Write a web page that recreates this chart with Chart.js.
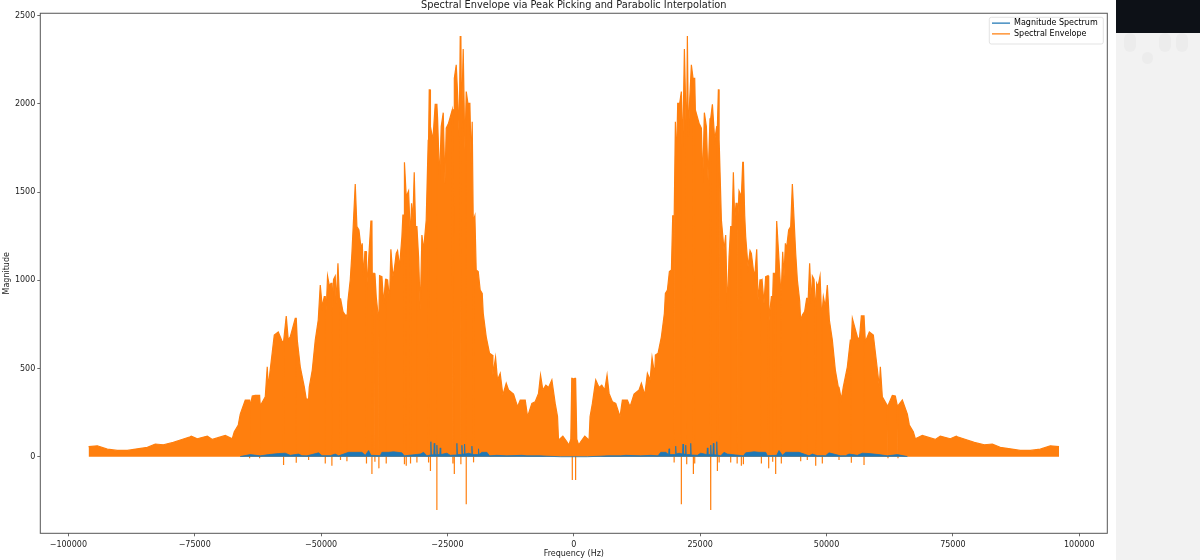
<!DOCTYPE html>
<html>
<head>
<meta charset="utf-8">
<title>Spectral Envelope</title>
<script src="https://cdn.jsdelivr.net/npm/chart.js@4/dist/chart.umd.min.js"></script>
<style>
  html, body { margin: 0; padding: 0; background: #fff; overflow: hidden; }
  #wrap { position: relative; width: 1200px; height: 560px; }
  #chart { position: absolute; left: 0; top: 0; }
  #side { position: absolute; left: 1116px; top: 0; width: 84px; height: 560px; background: #f2f2f2; overflow: hidden; }
  #side .bar { position: absolute; left: 0; top: 0; width: 84px; height: 33px; background: #0d1117; }
  #side .pill { position: absolute; background: #ececec; border-radius: 6px; }
</style>
</head>
<body>
<div id="wrap">
  <canvas id="chart" width="1116" height="560"></canvas>
  <div id="side">
    <div class="bar"></div>
    <div class="pill" style="left:8px;top:33px;width:12px;height:19px"></div>
    <div class="pill" style="left:43px;top:33px;width:12px;height:19px"></div>
    <div class="pill" style="left:60px;top:33px;width:12px;height:19px"></div>
    <div class="pill" style="left:26px;top:52px;width:11px;height:12px"></div>
  </div>
</div>
<script>
const chartTitle = "Spectral Envelope via Peak Picking and Parabolic Interpolation";
const xAxisLabel = "Frequency (Hz)";
const yAxisLabel = "Magnitude";
const seriesNames = ["Magnitude Spectrum", "Spectral Envelope"];
const xTicks = [-100000, -75000, -50000, -25000, 0, 25000, 50000, 75000, 100000];
const yTicks = [0, 500, 1000, 1500, 2000, 2500];

// envelope tops, negative side
const leftEnvFreq = [
  -96000, -94270, -92290, -90310, -88330, -86350, -84370, -82800, -81220, -79240,
  -77850, -75880, -75680, -74490, -72510, -71520, -68950, -67570, -67170, -66380,
  -65990, -65000, -64010, -63610, -63020, -62030, -61040, -60650, -60450, -59260,
  -58470, -57680, -56890, -56490, -56100, -55900, -55110, -54710, -54120, -53330,
  -52930, -52340, -51740, -51150, -50560, -50160, -49770, -49370, -48980, -48720,
  -48320, -48050, -47790, -47530, -47200, -47000, -46660, -46340, -46070, -45670,
  -45220, -44880, -44690, -44230, -43900, -43240, -42910, -42510, -42050, -41860,
  -41590, -41330, -40930, -40600, -40140, -39880, -39480, -39090, -38620, -38430,
  -37960, -37630, -37240, -36840, -36450, -36190, -35790, -35530, -35130, -34870,
  -34470, -34010, -33810, -33420, -33150, -32690, -32360, -32100, -31830, -31570,
  -31310, -31040, -30710, -30380, -30050, -29720, -29200, -28800, -28600, -28270,
  -27880, -27420, -26950, -26560, -26230, -25830, -25500, -25240, -24780, -24450,
  -24050, -23590, -23260, -22930, -22670, -22470, -22210, -21880, -21550, -21280,
  -20950, -20560, -20300, -20100, -19900, -19570, -19310, -18910, -18520, -18120,
  -17920, -17330, -16670, -16140, -16010, -15480, -15090, -14560, -14030, -13370,
  -12910, -11920, -11130, -10600, -9610, -9150, -8300, -7640, -6980, -6580,
  -6120, -5530, -5000, -4340, -3680, -3220, -3020, -2170, -1370, -980,
  -590, -400, -200
];
const leftEnvMag = [
  57, 62, 43, 36, 36, 45, 53, 72, 68, 81,
  95, 113, 117, 102, 117, 98, 121, 102, 142, 180,
  242, 321, 289, 344, 348, 289, 340, 510, 397, 690,
  707, 652, 798, 661, 680, 700, 784, 661, 510, 397,
  327, 393, 491, 661, 775, 973, 850, 907, 832, 1024,
  964, 983, 841, 1005, 1024, 869, 1096, 869, 898, 822,
  803, 775, 882, 1002, 1153, 1546, 1304, 1285, 1172, 1210,
  1021, 1162, 945, 1115, 1336, 1040, 1040, 907, 775, 1026,
  1021, 869, 1005, 1002, 888, 1176, 1021, 1058, 1153, 1168,
  1077, 1247, 1370, 1669, 1474, 1506, 1266, 1436, 1342, 1612,
  1304, 1304, 1134, 832, 1257, 1172, 1342, 1796, 2079, 1871,
  1796, 1998, 1918, 1569, 1871, 1950, 1550, 1862, 1890, 1924,
  1966, 2145, 2221, 2022, 1814, 2385, 1890, 2311, 1739, 2070,
  2003, 2003, 1663, 1899, 1342, 1366, 1058, 1049, 945, 926,
  813, 680, 586, 576, 463, 563, 435, 472, 350, 416,
  378, 355, 283, 321, 321, 227, 302, 312, 359, 463,
  378, 406, 393, 435, 302, 227, 94, 117, 85, 66,
  100, 444, 444
];

// same read-off for the positive side, listed from the outer edge inwards
const rightEnvFreq = [
  96000, 94270, 92290, 90310, 88330, 86350, 84370, 82800, 81220, 79240,
  77850, 75880, 75680, 74490, 72510, 71520, 68950, 67570, 67170, 66380,
  65990, 65000, 64010, 63610, 63020, 62030, 61040, 60650, 60450, 59260,
  58470, 57680, 56890, 56490, 56100, 55900, 55110, 54710, 54120, 53330,
  52930, 52340, 51740, 51150, 50560, 50160, 49770, 49370, 48980, 48720,
  48320, 48050, 47790, 47530, 47200, 47000, 46660, 46340, 46070, 45670,
  45220, 44880, 44690, 44230, 43900, 43240, 42910, 42510, 42050, 41860,
  41590, 41330, 40930, 40600, 40140, 39880, 39480, 39090, 38620, 38430,
  37960, 37630, 37240, 36840, 36450, 36190, 35790, 35530, 35130, 34870,
  34470, 34010, 33810, 33420, 33150, 32690, 32360, 32100, 31830, 31570,
  31310, 31040, 30710, 30380, 30050, 29720, 29200, 28800, 28600, 28270,
  27880, 27420, 26950, 26560, 26230, 25830, 25500, 25240, 24780, 24450,
  24050, 23590, 23260, 22930, 22670, 22470, 22210, 21880, 21550, 21280,
  20950, 20560, 20300, 20100, 19900, 19570, 19310, 18910, 18520, 18120,
  17920, 17330, 16670, 16140, 16010, 15480, 15090, 14560, 14030, 13370,
  12910, 11920, 11130, 10600, 9610, 9150, 8300, 7640, 6980, 6580,
  6120, 5530, 5000, 4340, 3680, 3220, 3020, 2170, 1370, 980,
  590, 400, 200, 0
];
const rightEnvMag = [
  57, 62, 43, 36, 36, 45, 53, 72, 68, 81,
  95, 113, 117, 102, 117, 98, 121, 102, 142, 180,
  242, 321, 289, 344, 348, 289, 340, 510, 397, 690,
  707, 652, 798, 661, 680, 700, 784, 661, 510, 397,
  327, 393, 491, 661, 775, 973, 850, 907, 832, 1024,
  964, 983, 841, 1005, 1024, 869, 1096, 869, 898, 822,
  803, 775, 882, 1002, 1153, 1546, 1304, 1285, 1172, 1210,
  1021, 1162, 945, 1115, 1336, 1040, 1040, 907, 775, 1026,
  1021, 869, 1005, 1002, 888, 1176, 1021, 1058, 1153, 1168,
  1077, 1247, 1370, 1669, 1474, 1506, 1266, 1436, 1342, 1612,
  1304, 1304, 1134, 832, 1257, 1172, 1342, 1796, 2079, 1871,
  1796, 1998, 1918, 1569, 1871, 1950, 1550, 1862, 1890, 1924,
  1966, 2145, 2221, 2022, 1814, 2385, 1890, 2311, 1739, 2070,
  2003, 2003, 1663, 1899, 1342, 1366, 1058, 1049, 945, 926,
  813, 680, 586, 576, 463, 563, 435, 472, 350, 416,
  378, 355, 283, 321, 321, 227, 302, 312, 359, 463,
  378, 406, 393, 435, 302, 227, 94, 117, 85, 66,
  100, 444, 444, 440
];

// envelope spikes below zero
const dipFreq = [
  -64140, -62160, -57420, -54910, -52470, -49170, -47860, -46200, -44890, -41060,
  -39940, -39350, -38560, -37110, -33550, -33150, -32300, -31040, -28730, -28410,
  -27090, -23920, -23660, -22340, -21280, -19830, -340, 340, 19830, 21280,
  22340, 23660, 23920, 27090, 28410, 28730, 31040, 32300, 33150, 33550,
  37110, 38560, 39350, 39940, 41060, 44890, 46200, 47860, 49170, 52470,
  54910, 57420, 62160, 64140
];
const dipMag = [
  -9, -9, -47, -34, -19, -38, -51, -19, -25, -38,
  -98, -28, -66, -38, -43, -51, -38, -32, -32, -81,
  -302, -38, -98, -42, -270, -32, -132, -132, -32, -270,
  -42, -98, -38, -302, -81, -32, -32, -38, -51, -43,
  -38, -66, -28, -98, -38, -25, -19, -51, -38, -19,
  -34, -47, -9, -9
];

// magnitude spectrum where it shows over the envelope
const spectrumFreq = [
  -66000, -64010, -62030, -60380, -58410, -57085, -56100, -54450, -53790, -52800,
  -50490, -49830, -48180, -47200, -46540, -44560, -43240, -41920, -41260, -40600,
  -40140, -38300, -37970, -36650, -35660, -34010, -33550, -32030, -30380, -29720,
  -29070, -28380, -28280, -28180, -27710, -27610, -27510, -27190, -27090, -26990,
  -26530, -26430, -26330, -25110, -24450, -23230, -23130, -23030, -22240, -22140,
  -22040, -21710, -21610, -21510, -20820, -20260, -20160, -20060, -18950, -18850,
  -18750, -18190, -17200, -16670, -15220, -13240, -10275, -9290, -6650, -5330,
  -2690, 2690, 5330, 6650, 9290, 10275, 13240, 15220, 16670, 17200,
  18190, 18750, 18850, 18950, 20060, 20160, 20260, 20820, 21510, 21610,
  21710, 22040, 22140, 22240, 23030, 23130, 23230, 24450, 25110, 26330,
  26430, 26530, 26990, 27090, 27190, 27510, 27610, 27710, 28180, 28280,
  28380, 29070, 29720, 30380, 32030, 33550, 34010, 35660, 36650, 37970,
  38300, 40140, 40600, 41260, 41920, 43240, 44560, 46540, 47200, 48180,
  49830, 50490, 52800, 53790, 54450, 56100, 57085, 58410, 60380, 62030,
  64010, 66000
];
const spectrumMag = [
  1, 12, 5, 12, 18, 20, 8, 15, 6, 5,
  22, 6, 6, 15, 5, 25, 25, 25, 8, 35,
  8, 6, 25, 25, 28, 22, 5, 10, 15, 25,
  5, 10, 85, 10, 12, 76, 12, 12, 66, 12,
  12, 50, 12, 20, 8, 10, 76, 12, 12, 65,
  15, 15, 72, 15, 20, 15, 60, 12, 12, 45,
  12, 25, 25, 5, 8, 5, 8, 5, 5, 3,
  0, 0, 3, 5, 5, 8, 5, 8, 5, 25,
  25, 12, 45, 12, 12, 60, 15, 20, 15, 72,
  15, 15, 65, 12, 12, 76, 10, 8, 20, 12,
  50, 12, 12, 66, 12, 12, 76, 12, 10, 85,
  10, 5, 25, 15, 10, 5, 22, 28, 25, 25,
  6, 8, 35, 8, 25, 25, 25, 5, 15, 6,
  6, 22, 5, 6, 15, 8, 20, 18, 12, 5,
  12, 1
];

const BLUE = "#1f77b4";
const ORANGE = "#ff7f0e";
const FONT = "'DejaVu Sans', sans-serif";

function toPoints(freqs, mags) {
  return freqs.map((f, i) => ({ x: f, y: mags[i] }));
}

// walk the envelope and drop each dip straight down from the current top,
// so the fill under the envelope gets no notch
function buildEnvelope() {
  const tops = toPoints(leftEnvFreq, leftEnvMag)
    .concat(toPoints(rightEnvFreq, rightEnvMag))
    .sort((a, b) => a.x - b.x);
  const dips = toPoints(dipFreq, dipMag).sort((a, b) => a.x - b.x);
  const points = [];
  let d = 0;

  tops.forEach((top, i) => {
    points.push(top);
    const next = tops[i + 1];
    while (next && d < dips.length && dips[d].x < next.x) {
      points.push({ x: dips[d].x, y: top.y }, dips[d], { x: dips[d].x, y: top.y });
      d++;
    }
  });
  return points;
}

const frameAndLegend = {
  id: "frameAndLegend",
  afterLayout(chart) {
    // put the legend inside the axes, upper right
    const legend = chart.legend;
    const pad = legend.options.labels.padding;
    legend.left = 992 - pad;
    legend.top = 19.2 - pad;
    legend.right = 1104;
    legend.bottom = 46;
  },
  beforeDraw(chart) {
    const ctx = chart.ctx;
    ctx.save();
    ctx.beginPath();
    ctx.roundRect(989.3, 17.3, 114, 26.7, 2);
    ctx.fillStyle = "#fff";
    ctx.fill();
    ctx.strokeStyle = "#dcdcdc";
    ctx.lineWidth = 0.8;
    ctx.stroke();
    ctx.restore();
  },
  afterDraw(chart) {
    const { ctx, chartArea: a } = chart;
    ctx.save();
    ctx.strokeStyle = "#555";
    ctx.lineWidth = 1;
    ctx.strokeRect(a.left, a.top, a.right - a.left, a.bottom - a.top);
    ctx.restore();
  }
};

function formatTick(value) {
  return String(value).replace("-", "\u2212");
}

function renderChart() {
  const ctx = document.getElementById("chart").getContext("2d");

  new Chart(ctx, {
    type: "line",
    data: {
      datasets: [
        {
          label: seriesNames[0],
          data: toPoints(spectrumFreq, spectrumMag),
          borderColor: BLUE,
          backgroundColor: BLUE,
          borderWidth: 0.8,
          fill: "origin",
          pointRadius: 0,
          order: 1
        },
        {
          label: seriesNames[1],
          data: buildEnvelope(),
          borderColor: ORANGE,
          backgroundColor: ORANGE,
          borderWidth: 1.2,
          fill: "origin",
          pointRadius: 0,
          order: 2
        }
      ]
    },
    options: {
      responsive: false,
      animation: false,
      layout: { padding: { left: 0, right: 8.7, top: 0, bottom: 0 } },
      plugins: {
        title: {
          display: true,
          fullSize: false,
          text: chartTitle,
          color: "#222",
          font: { family: FONT, size: 9.8, weight: "normal" },
          padding: { top: 0, bottom: 1.5 }
        },
        legend: {
          position: "chartArea",
          align: "start",
          labels: {
            font: { family: FONT, size: 8 },
            color: "#222",
            boxWidth: 18,
            boxHeight: 1.2,
            padding: 2.7,
            generateLabels(chart) {
              return chart.data.datasets.map((ds, i) => ({
                text: ds.label,
                fillStyle: ds.borderColor,
                strokeStyle: ds.borderColor,
                lineWidth: 0,
                hidden: false,
                datasetIndex: i
              }));
            }
          }
        },
        tooltip: { enabled: false }
      },
      scales: {
        x: {
          type: "linear",
          min: -105550,
          max: 105550,
          afterBuildTicks(scale) {
            scale.ticks = xTicks.map((value) => ({ value }));
          },
          afterFit(scale) {
            scale.height = 26.7;
          },
          ticks: {
            callback: formatTick,
            maxRotation: 0,
            autoSkip: false,
            color: "#222",
            padding: 3.5,
            font: { family: FONT, size: 8 }
          },
          grid: { drawOnChartArea: false, drawTicks: true, tickLength: 3, color: "#444", lineWidth: 0.8 },
          border: { display: false },
          title: {
            display: true,
            text: xAxisLabel,
            color: "#222",
            font: { family: FONT, size: 8 },
            padding: { top: 0, bottom: 1 }
          }
        },
        y: {
          min: -434,
          max: 2513.6,
          afterBuildTicks(scale) {
            scale.ticks = yTicks.map((value) => ({ value }));
          },
          afterFit(scale) {
            scale.width = 40.3;
          },
          ticks: {
            callback: formatTick,
            autoSkip: false,
            color: "#222",
            padding: 2,
            font: { family: FONT, size: 8 }
          },
          grid: { drawOnChartArea: false, drawTicks: true, tickLength: 3, color: "#444", lineWidth: 0.8 },
          border: { display: false },
          title: {
            display: true,
            text: yAxisLabel,
            color: "#222",
            font: { family: FONT, size: 8 },
            padding: { top: 2, bottom: 0 }
          }
        }
      }
    },
    plugins: [frameAndLegend]
  });
}

document.addEventListener("DOMContentLoaded", renderChart);
</script>
</body>
</html>
